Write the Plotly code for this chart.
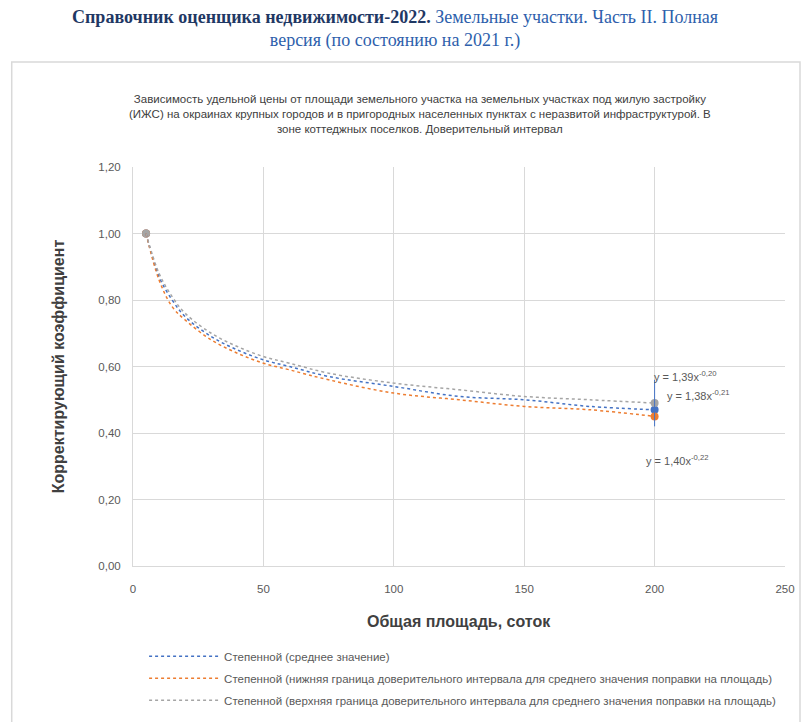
import plotly.graph_objects as go

# --- data ---------------------------------------------------------------
area = [5, 10, 15, 20, 30, 40, 50, 60, 75, 100, 125, 150, 175, 200]
k_mean = [1.00, 0.87, 0.80, 0.75, 0.69, 0.65, 0.62, 0.60, 0.57, 0.54, 0.51, 0.50, 0.48, 0.47]
k_upper = [1.00, 0.88, 0.81, 0.76, 0.70, 0.66, 0.63, 0.61, 0.58, 0.55, 0.53, 0.51, 0.50, 0.49]
k_lower = [1.00, 0.86, 0.78, 0.74, 0.68, 0.64, 0.61, 0.59, 0.56, 0.52, 0.50, 0.48, 0.47, 0.45]

pt_x = [5, 200]
pt_mean = [1.00, 0.47]
pt_upper = [1.00, 0.49]
pt_lower = [1.00, 0.45]

x_ticks = [0, 50, 100, 150, 200, 250]
y_ticks = [0.0, 0.2, 0.4, 0.6, 0.8, 1.0, 1.2]

eq_text = ["y = 1,39x<sup>-0,20</sup>", "y = 1,38x<sup>-0,21</sup>", "y = 1,40x<sup>-0,22</sup>"]
eq_y = [0.57, 0.515, 0.32]
eq_x = [199, 204, 196]

legend_names = [
    "Степенной (среднее значение)",
    "Степенной (нижняя граница доверительного интервала для среднего значения поправки на площадь)",
    "Степенной (верхняя граница доверительного интервала для среднего значения поправки на площадь)",
]

C_BLUE = "#4472C4"
C_ORANGE = "#ED7D31"
C_GRAY = "#A5A5A5"
TXT = "#595959"
FONT = "Liberation Sans, Arial, sans-serif"

fig = go.Figure()

# markers (not in legend)
for ys, col in [(pt_mean, C_BLUE), (pt_lower, C_ORANGE), (pt_upper, C_GRAY)]:
    fig.add_trace(go.Scatter(x=pt_x, y=ys, mode="markers", showlegend=False,
                             marker=dict(size=8, color=col)))

# power trend curves
for i, (name, ys, col) in enumerate([(legend_names[0], k_mean, C_BLUE),
                                     (legend_names[1], k_lower, C_ORANGE),
                                     (legend_names[2], k_upper, C_GRAY)]):
    fig.add_trace(go.Scatter(x=area, y=ys, mode="lines", name=name, legendgroup=f"g{i}",
                             line=dict(color=col, width=1.5, dash="dot", shape="spline")))

fig.add_trace(go.Scatter(x=[200, 200], y=[0.42, 0.56], mode="lines", showlegend=False,
                         line=dict(color=C_BLUE, width=1)))

for t, xx, yy in zip(eq_text, eq_x, eq_y):
    fig.add_annotation(x=xx, y=yy, text=t, showarrow=False, xanchor="left",
                       font=dict(size=11, color=TXT, family=FONT))

# paper-coordinate texts
fig.add_annotation(
    xref="paper", yref="paper", x=0.44, y=1.133, yanchor="middle", showarrow=False,
    text=("Зависимость удельной цены от площади земельного участка на земельных участках под жилую застройку<br>"
          "(ИЖС) на окраинах крупных городов и в пригородных населенных пунктах с неразвитой инфраструктурой. В<br>"
          "зоне коттеджных поселков. Доверительный интервал"),
    font=dict(size=11.5, color="#404040", family=FONT))

fig.add_annotation(
    xref="paper", yref="paper", x=0.402, y=1.347, yanchor="middle", showarrow=False,
    align="center",
    text=("<b><span style='color:#1F3864'>Справочник оценщика недвижимости-2022.</span></b>"
          " <span style='color:#2E5FAC'>Земельные участки. Часть II. Полная</span><br>"
          "<span style='color:#2E5FAC'>версия (по состоянию на 2021 г.)</span>"),
    font=dict(size=18, family="Liberation Serif, Times New Roman, serif"))

fig.add_annotation(xref="paper", yref="paper", x=0.5, y=-0.14, yanchor="middle",
                   showarrow=False, text="<b>Общая площадь, соток</b>",
                   font=dict(size=16, color="#404040", family=FONT))
fig.add_annotation(xref="paper", yref="paper", x=-0.13, y=0.5, yanchor="middle",
                   showarrow=False, textangle=-90, text="<b>Корректирующий коэффициент</b>",
                   font=dict(size=16, color="#404040", family=FONT))

fig.add_shape(type="rect", xref="paper", yref="paper", x0=-0.186, x1=1.023,
              y0=-0.45, y1=1.263, line=dict(color="#D9D9D9", width=1.5))

fig.update_layout(
    width=812, height=722,
    margin=dict(l=125, r=35, t=159, b=164),
    paper_bgcolor="white", plot_bgcolor="white",
    separators=", ",
    font=dict(family=FONT, size=11.5, color=TXT),
    legend=dict(x=0.017, y=-0.19, xanchor="left", yanchor="top",
                font=dict(size=11.5, color=TXT), itemwidth=70, tracegroupgap=3,
                bgcolor="rgba(0,0,0,0)"),
)
fig.update_xaxes(range=[0, 250], tickvals=x_ticks, showgrid=True, gridcolor="#D9D9D9",
                 zeroline=False, showline=True, linecolor="#D9D9D9", ticks="",
                 ticklabelstandoff=12)
fig.update_yaxes(range=[0, 1.2], tickvals=y_ticks, tickformat=".2f", showgrid=True,
                 gridcolor="#D9D9D9", zeroline=False, showline=True, linecolor="#D9D9D9",
                 ticks="", ticklabelstandoff=9)

fig.write_html("out.html")
